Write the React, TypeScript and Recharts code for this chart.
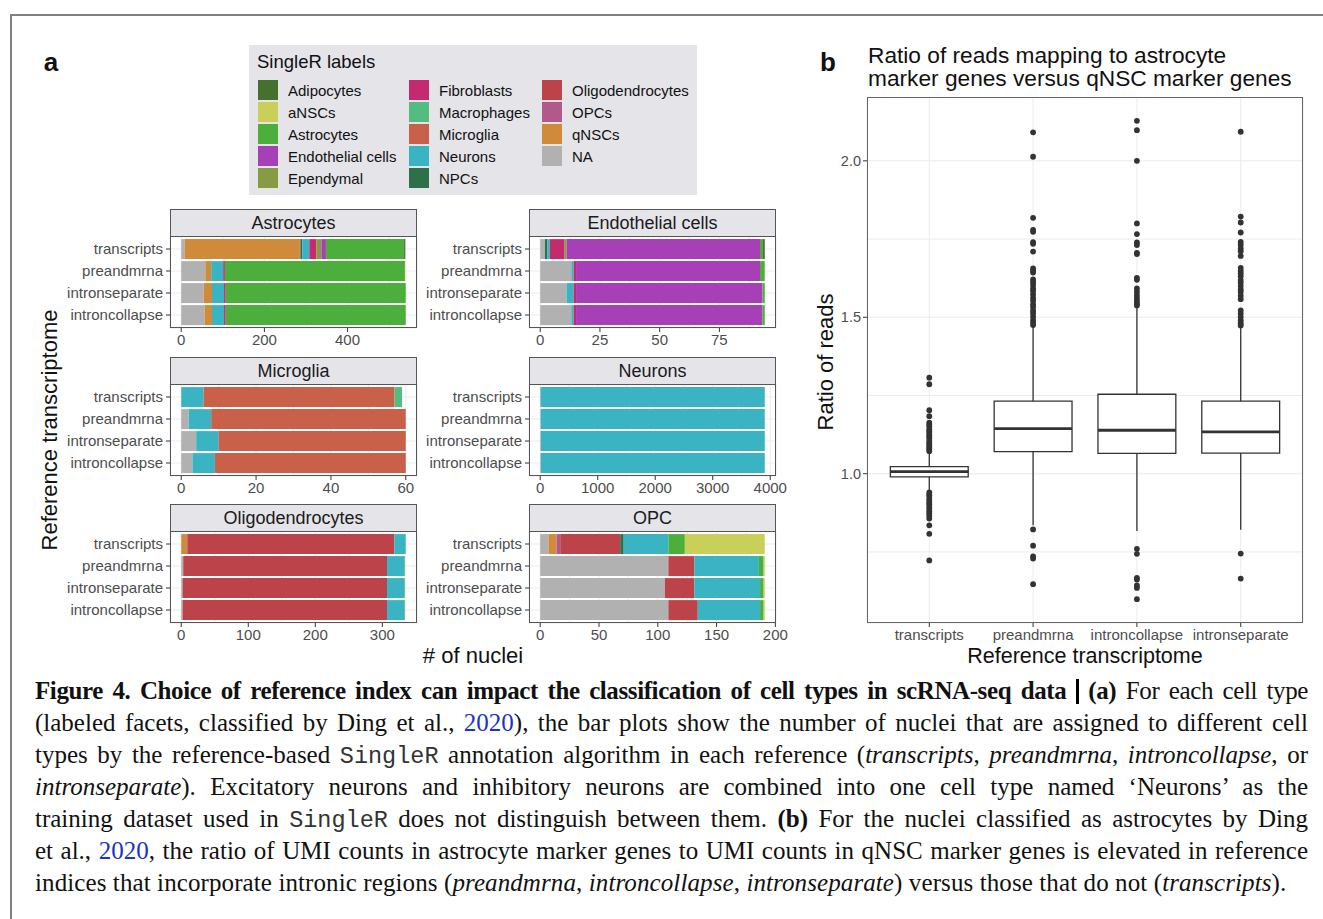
import React from "react";
import {
  BarChart,
  Bar,
  XAxis,
  YAxis,
  CartesianGrid,
  ComposedChart,
  Scatter,
  ReferenceArea,
  ReferenceLine,
} from "recharts";

// ---- panel a data ----
const cellLabels = [
  "Adipocytes", "aNSCs", "Astrocytes", "Endothelial cells", "Ependymal",
  "Fibroblasts", "Macrophages", "Microglia", "Neurons", "NPCs",
  "Oligodendrocytes", "OPCs", "qNSCs", "NA",
];
const cellColors = [
  "#46702D", "#C8D05A", "#4CAF3B", "#A73FB6", "#879B45",
  "#C42A6E", "#53BD80", "#C9614A", "#3AB4C2", "#2D704A",
  "#BC4349", "#B15A8A", "#CF8A3A", "#B1B1B1",
];
const refNames = ["transcripts", "preandmrna", "intronseparate", "introncollapse"];

// rows follow refNames order
const astrocyteRows = [
  { NA: 8, qNSCs: 277, Oligodendrocytes: 2, NPCs: 4, Neurons: 17, Fibroblasts: 17, Ependymal: 12, "Endothelial cells": 11, Astrocytes: 188, Adipocytes: 3 },
  { NA: 58, qNSCs: 14, Neurons: 29, Fibroblasts: 4, Astrocytes: 433, aNSCs: 1 },
  { NA: 54, qNSCs: 20, Neurons: 29, Fibroblasts: 4, Astrocytes: 433 },
  { NA: 56, qNSCs: 18, Neurons: 29, Fibroblasts: 4, Astrocytes: 433 },
];
const endothelialRows = [
  { NA: 2, NPCs: 1, Neurons: 1, Fibroblasts: 6, Ependymal: 1, "Endothelial cells": 81, Astrocytes: 1, Adipocytes: 1 },
  { NA: 13, Neurons: 1, Fibroblasts: 1, "Endothelial cells": 77, Astrocytes: 2 },
  { NA: 11, Neurons: 3, Fibroblasts: 1, "Endothelial cells": 78, Astrocytes: 1 },
  { NA: 13, Neurons: 1, Fibroblasts: 1, "Endothelial cells": 78, Astrocytes: 1 },
];
const microgliaRows = [
  { Neurons: 6, Microglia: 51, Macrophages: 2 },
  { NA: 2, Neurons: 6, Microglia: 52 },
  { NA: 4, Neurons: 6, Microglia: 50 },
  { NA: 3, Neurons: 6, Microglia: 51 },
];
const neuronRows = [
  { NA: 5, Neurons: 3900 },
  { NA: 10, Neurons: 3895 },
  { NA: 10, Neurons: 3895 },
  { NA: 10, Neurons: 3895 },
];
const oligoRows = [
  { qNSCs: 9, Oligodendrocytes: 309, Neurons: 17 },
  { NA: 3, Oligodendrocytes: 304, Neurons: 26, Astrocytes: 1 },
  { NA: 2, Oligodendrocytes: 305, Neurons: 26, Astrocytes: 1 },
  { NA: 2, Oligodendrocytes: 305, Neurons: 26, Astrocytes: 1 },
];
const opcRows = [
  { NA: 7, qNSCs: 7, OPCs: 3, Oligodendrocytes: 51, NPCs: 3, Neurons: 38, Astrocytes: 14, aNSCs: 68 },
  { NA: 109, Oligodendrocytes: 22, Neurons: 55, Astrocytes: 4, aNSCs: 1 },
  { NA: 106, Oligodendrocytes: 25, Neurons: 56, Astrocytes: 3, aNSCs: 1 },
  { NA: 109, Oligodendrocytes: 25, Neurons: 53, Astrocytes: 3, aNSCs: 1 },
];

// ---- panel b data ----
const boxRefs = ["transcripts", "preandmrna", "introncollapse", "intronseparate"];
const boxQ1 = [0.99, 1.071, 1.065, 1.066];
const boxMedian = [1.007, 1.144, 1.139, 1.134];
const boxQ3 = [1.023, 1.232, 1.254, 1.232];
const whiskerLow = [0.944, 0.835, 0.817, 0.821];
const whiskerHigh = [1.066, 1.47, 1.535, 1.47];
const transcriptsOutliers = [
  1.307, 1.286, 1.203, 1.184, 1.163, 1.157, 1.151, 1.142, 1.136, 1.131, 1.124, 1.119,
  1.113, 1.104, 1.098, 1.093, 1.087, 1.082, 1.077, 1.072,
  0.94, 0.933, 0.929, 0.92, 0.914, 0.907, 0.902, 0.894, 0.887, 0.88, 0.874, 0.866,
  0.857, 0.835, 0.808, 0.723,
];
const preandmrnaOutliers = [
  2.091, 2.013, 1.818, 1.779, 1.773, 1.74, 1.735, 1.71, 1.656, 1.649, 1.643, 1.621,
  1.612, 1.603, 1.592, 1.584, 1.573, 1.562, 1.553, 1.541, 1.533, 1.522, 1.513, 1.502,
  1.491, 1.483, 1.475, 0.822, 0.77, 0.736, 0.729, 0.647,
];
const introncollapseOutliers = [
  2.128, 2.098, 2.0, 1.8, 1.766, 1.739, 1.731, 1.706, 1.702, 1.626, 1.62, 1.592,
  1.582, 1.571, 1.562, 1.553, 1.545, 1.538, 0.76, 0.744, 0.667, 0.662, 0.643, 0.635, 0.599,
];
const intronseparateOutliers = [
  2.093, 1.822, 1.803, 1.771, 1.741, 1.731, 1.72, 1.711, 1.696, 1.658, 1.649, 1.64,
  1.631, 1.619, 1.611, 1.6, 1.589, 1.581, 1.569, 1.558, 1.522, 1.512, 1.501, 1.49,
  1.481, 1.474, 0.745, 0.665,
];
const boxOutliers = [transcriptsOutliers, preandmrnaOutliers, introncollapseOutliers, intronseparateOutliers];
const ratioTicks = [1.0, 1.5, 2.0];
const ratioMinor = [0.75, 1.25, 1.75];

const cellColor: Record<string, string> = Object.fromEntries(cellLabels.map((l, i) => [l, cellColors[i]]));
const stackOrder = [...cellLabels].reverse();

const SANS = "'Liberation Sans', Arial, sans-serif";
const PANEL_W = 247;
const PANEL_H = 92;
const STRIP_H = 27;
const AXW = 150;
const STRIP_BG = "#E4E4E9";
const BORDER = "#555";

function XTick(props: any) {
  const { x, y, payload, majors } = props;
  if (!majors.includes(payload.value)) return null;
  return (
    <g>
      <line x1={x} x2={x} y1={y - 6} y2={y - 2} stroke="#333" />
      <text x={x} y={y} dy="0.71em" textAnchor="middle" fontSize={15} fill="#4D4D4D">
        {payload.value}
      </text>
    </g>
  );
}

function YTick(props: any) {
  const { x, y, payload, majors } = props;
  if (!majors.includes(payload.value)) return null;
  return (
    <g>
      <line x1={x + 2} x2={x + 6} y1={y} y2={y} stroke="#333" />
      <text x={x} y={y} dy="0.355em" textAnchor="end" fontSize={14.5} fill="#4D4D4D">
        {payload.value.toFixed(1)}
      </text>
    </g>
  );
}

function Facet({ title, rows, ticks, minor, left, top }: any) {
  const data = rows.map((r: any, i: number) => {
    const o: any = { reference: refNames[i] };
    stackOrder.forEach((k) => (o[k] = r[k] ?? 0));
    return o;
  });
  const maxTotal = Math.max(...data.map((d: any) => stackOrder.reduce((s, k) => s + d[k], 0)));
  const allTicks = [...ticks, ...minor].sort((a, b) => a - b);
  return (
    <>
      <div
        style={{
          position: "absolute", left, top: top - STRIP_H, width: PANEL_W, height: STRIP_H + 1,
          background: STRIP_BG, border: `1px solid ${BORDER}`, boxSizing: "border-box",
          textAlign: "center", fontSize: 18, lineHeight: `${STRIP_H - 1}px`, color: "#1a1a1a",
        }}
      >
        {title}
      </div>
      <div style={{ position: "absolute", left: left - AXW, top }}>
        <BarChart
          width={AXW + PANEL_W + 24}
          height={PANEL_H + 28}
          data={data}
          layout="vertical"
          margin={{ top: 0, right: 24, bottom: 0, left: 0 }}
          barCategoryGap="5%"
        >
          <CartesianGrid stroke="#EBEBEB" />
          <XAxis
            type="number"
            domain={[-0.05 * maxTotal, 1.05 * maxTotal]}
            ticks={allTicks}
            interval={0}
            height={28}
            axisLine={false}
            tickLine={false}
            tickSize={4}
            tickMargin={2}
            tick={<XTick majors={ticks} />}
            allowDataOverflow
          />
          <YAxis
            type="category"
            dataKey="reference"
            width={AXW}
            interval={0}
            axisLine={false}
            tickSize={4}
            tickMargin={3}
            tickLine={{ stroke: "#333" }}
            tick={{ fontSize: 15, fill: "#4D4D4D" }}
            padding={{ top: 2, bottom: 2 }}
          />
          {stackOrder.map((k) => (
            <Bar key={k} dataKey={k} stackId="s" fill={cellColor[k]} isAnimationActive={false} />
          ))}
        </BarChart>
      </div>
      <div
        style={{
          position: "absolute", left, top, width: PANEL_W, height: PANEL_H,
          border: `1px solid ${BORDER}`, boxSizing: "border-box", pointerEvents: "none",
        }}
      />
    </>
  );
}

function Label({ x, y, size, children, bold, rotate, anchor = "center" }: any) {
  const tx = anchor === "left" ? "0" : "-50%";
  return (
    <div
      style={{
        position: "absolute", left: x, top: y, fontSize: size, lineHeight: 1,
        fontWeight: bold ? "bold" : "normal", whiteSpace: "nowrap", color: "#111",
        transform: `translate(${tx}, -50%)${rotate ? ` rotate(${rotate}deg)` : ""}`,
        transformOrigin: anchor === "left" ? "left center" : "center",
      }}
    >
      {children}
    </div>
  );
}

function Legend() {
  return (
    <div
      style={{
        position: "absolute", left: 249, top: 45, width: 448, height: 150, background: STRIP_BG,
      }}
    >
      <div style={{ position: "absolute", left: 8, top: 17, fontSize: 18.5, lineHeight: 1, transform: "translateY(-50%)" }}>
        SingleR labels
      </div>
      {cellLabels.map((l, i) => {
        const col = Math.floor(i / 5);
        const row = i % 5;
        const kx = [9, 160, 293][col];
        return (
          <React.Fragment key={l}>
            <div style={{ position: "absolute", left: kx, top: 35 + row * 22, width: 20, height: 20, background: cellColor[l] }} />
            <div
              style={{
                position: "absolute", left: kx + 30, top: 45 + row * 22, fontSize: 15, lineHeight: 1,
                transform: "translateY(-50%)", whiteSpace: "nowrap", color: "#111",
              }}
            >
              {l}
            </div>
          </React.Fragment>
        );
      })}
    </div>
  );
}

function BoxPanel() {
  const points = boxOutliers.flatMap((vals, i) => vals.map((v) => ({ x: i + 1, y: v })));
  const half = 0.375;
  return (
    <>
      <div style={{ position: "absolute", left: 810, top: 97 }}>
        <ComposedChart width={57 + 436 + 24} height={526 + 30} margin={{ top: 0, right: 24, bottom: 0, left: 0 }}>
          <CartesianGrid stroke="#EBEBEB" />
          <XAxis
            type="number"
            dataKey="x"
            domain={[0.4, 4.6]}
            ticks={[1, 2, 3, 4]}
            interval={0}
            height={30}
            axisLine={false}
            tickSize={4}
            tickMargin={2}
            tickLine={{ stroke: "#333" }}
            tick={{ fontSize: 15, fill: "#4D4D4D" }}
            tickFormatter={(v: number) => boxRefs[v - 1]}
            allowDataOverflow
          />
          <YAxis
            type="number"
            dataKey="y"
            domain={[0.523, 2.204]}
            ticks={[...ratioTicks, ...ratioMinor].sort((a, b) => a - b)}
            interval={0}
            width={57}
            axisLine={false}
            tickLine={false}
            tickSize={4}
            tickMargin={2}
            tick={<YTick majors={ratioTicks} />}
            allowDataOverflow
          />
          {boxRefs.map((r, i) => (
            <ReferenceLine key={r + "hi"} segment={[{ x: i + 1, y: boxQ3[i] }, { x: i + 1, y: whiskerHigh[i] }]} stroke="#333" strokeWidth={1.3} />
          ))}
          {boxRefs.map((r, i) => (
            <ReferenceLine key={r + "lo"} segment={[{ x: i + 1, y: boxQ1[i] }, { x: i + 1, y: whiskerLow[i] }]} stroke="#333" strokeWidth={1.3} />
          ))}
          {boxRefs.map((r, i) => (
            <ReferenceArea
              key={r + "box"}
              x1={i + 1 - half}
              x2={i + 1 + half}
              y1={boxQ1[i]}
              y2={boxQ3[i]}
              fill="#fff"
              fillOpacity={1}
              stroke="#333"
              strokeWidth={1.3}
            />
          ))}
          {boxRefs.map((r, i) => (
            <ReferenceLine
              key={r + "med"}
              segment={[{ x: i + 1 - half, y: boxMedian[i] }, { x: i + 1 + half, y: boxMedian[i] }]}
              stroke="#333"
              strokeWidth={2.8}
            />
          ))}
          <Scatter
            data={points}
            isAnimationActive={false}
            shape={(p: any) => <circle cx={p.cx} cy={p.cy} r={2.9} fill="#333" />}
          />
        </ComposedChart>
      </div>
      <div
        style={{
          position: "absolute", left: 867, top: 97, width: 436, height: 526,
          border: `1px solid #666`, boxSizing: "border-box", pointerEvents: "none",
        }}
      />
    </>
  );
}

const linkStyle = { color: "#1a33c8" };
const monoStyle = { fontFamily: "'Liberation Mono', monospace", fontSize: 23.5, color: "#333", letterSpacing: 0 };

function Caption() {
  const line = (justify: boolean, extra: any = {}) => ({
    height: 32, lineHeight: "32px", whiteSpace: "nowrap" as const,
    textAlign: "left" as const, textAlignLast: justify ? ("justify" as const) : ("left" as const),
    ...extra,
  });
  return (
    <div
      style={{
        position: "absolute", left: 35, top: 675, width: 1273,
        fontFamily: "'Liberation Serif', 'Times New Roman', serif", fontSize: 25, color: "#111",
      }}
    >
      <div style={line(true, { letterSpacing: "-0.4px" })}>
        <b>Figure 4. Choice of reference index can impact the classification of cell types in scRNA-seq data</b>{" "}
        <span style={{ display: "inline-block", width: 3, height: 25, background: "#000", verticalAlign: "-5px" }} />{" "}
        <b>(a)</b> For each cell type
      </div>
      <div style={line(true)}>
        (labeled facets, classified by Ding et al., <span style={linkStyle}>2020</span>), the bar plots show the number of nuclei that are assigned to different cell
      </div>
      <div style={line(true)}>
        types by the reference-based <span style={monoStyle}>SingleR</span> annotation algorithm in each reference (
        <i>transcripts</i>, <i>preandmrna</i>, <i>introncollapse</i>, or
      </div>
      <div style={line(true)}>
        <i>intronseparate</i>). Excitatory neurons and inhibitory neurons are combined into one cell type named ‘Neurons’ as the
      </div>
      <div style={line(true)}>
        training dataset used in <span style={monoStyle}>SingleR</span> does not distinguish between them. <b>(b)</b> For the nuclei classified as astrocytes by Ding
      </div>
      <div style={line(true)}>
        et al., <span style={linkStyle}>2020</span>, the ratio of UMI counts in astrocyte marker genes to UMI counts in qNSC marker genes is elevated in reference
      </div>
      <div style={line(false, { letterSpacing: "0.1px" })}>
        indices that incorporate intronic regions (<i>preandmrna</i>, <i>introncollapse</i>, <i>intronseparate</i>) versus those that do not (
        <i>transcripts</i>).
      </div>
    </div>
  );
}

export default function App() {
  return (
    <div
      style={{
        position: "absolute", left: 0, top: 0, width: 1323, height: 919, overflow: "hidden",
        background: "#fff", fontFamily: SANS, color: "#111",
      }}
    >
      <div
        style={{
          position: "absolute", left: 10, top: 14, width: 1400, height: 1000,
          borderTop: "2px solid #808080", borderLeft: "2px solid #808080",
        }}
      />
      <Label x={51} y={62} size={26} bold>a</Label>
      <Label x={828} y={62} size={26} bold>b</Label>
      <Legend />
      <Facet title="Astrocytes" rows={astrocyteRows} ticks={[0, 200, 400]} minor={[100, 300, 500]} left={170} top={236} />
      <Facet title="Endothelial cells" rows={endothelialRows} ticks={[0, 25, 50, 75]} minor={[12.5, 37.5, 62.5, 87.5]} left={529} top={236} />
      <Facet title="Microglia" rows={microgliaRows} ticks={[0, 20, 40, 60]} minor={[10, 30, 50]} left={170} top={384} />
      <Facet title="Neurons" rows={neuronRows} ticks={[0, 1000, 2000, 3000, 4000]} minor={[500, 1500, 2500, 3500]} left={529} top={384} />
      <Facet title="Oligodendrocytes" rows={oligoRows} ticks={[0, 100, 200, 300]} minor={[50, 150, 250]} left={170} top={531} />
      <Facet title="OPC" rows={opcRows} ticks={[0, 50, 100, 150, 200]} minor={[25, 75, 125, 175]} left={529} top={531} />
      <Label x={473} y={656} size={22}># of nuclei</Label>
      <Label x={50} y={430} size={22} rotate={-90}>Reference transcriptome</Label>
      <div
        style={{
          position: "absolute", left: 868, top: 43.5, fontSize: 22.7, lineHeight: "23px",
          whiteSpace: "nowrap", color: "#111",
        }}
      >
        Ratio of reads mapping to astrocyte
        <br />
        marker genes versus qNSC marker genes
      </div>
      <BoxPanel />
      <Label x={826} y={362} size={22} rotate={-90}>Ratio of reads</Label>
      <Label x={1085} y={657} size={21.5}>Reference transcriptome</Label>
      <Caption />
    </div>
  );
}
